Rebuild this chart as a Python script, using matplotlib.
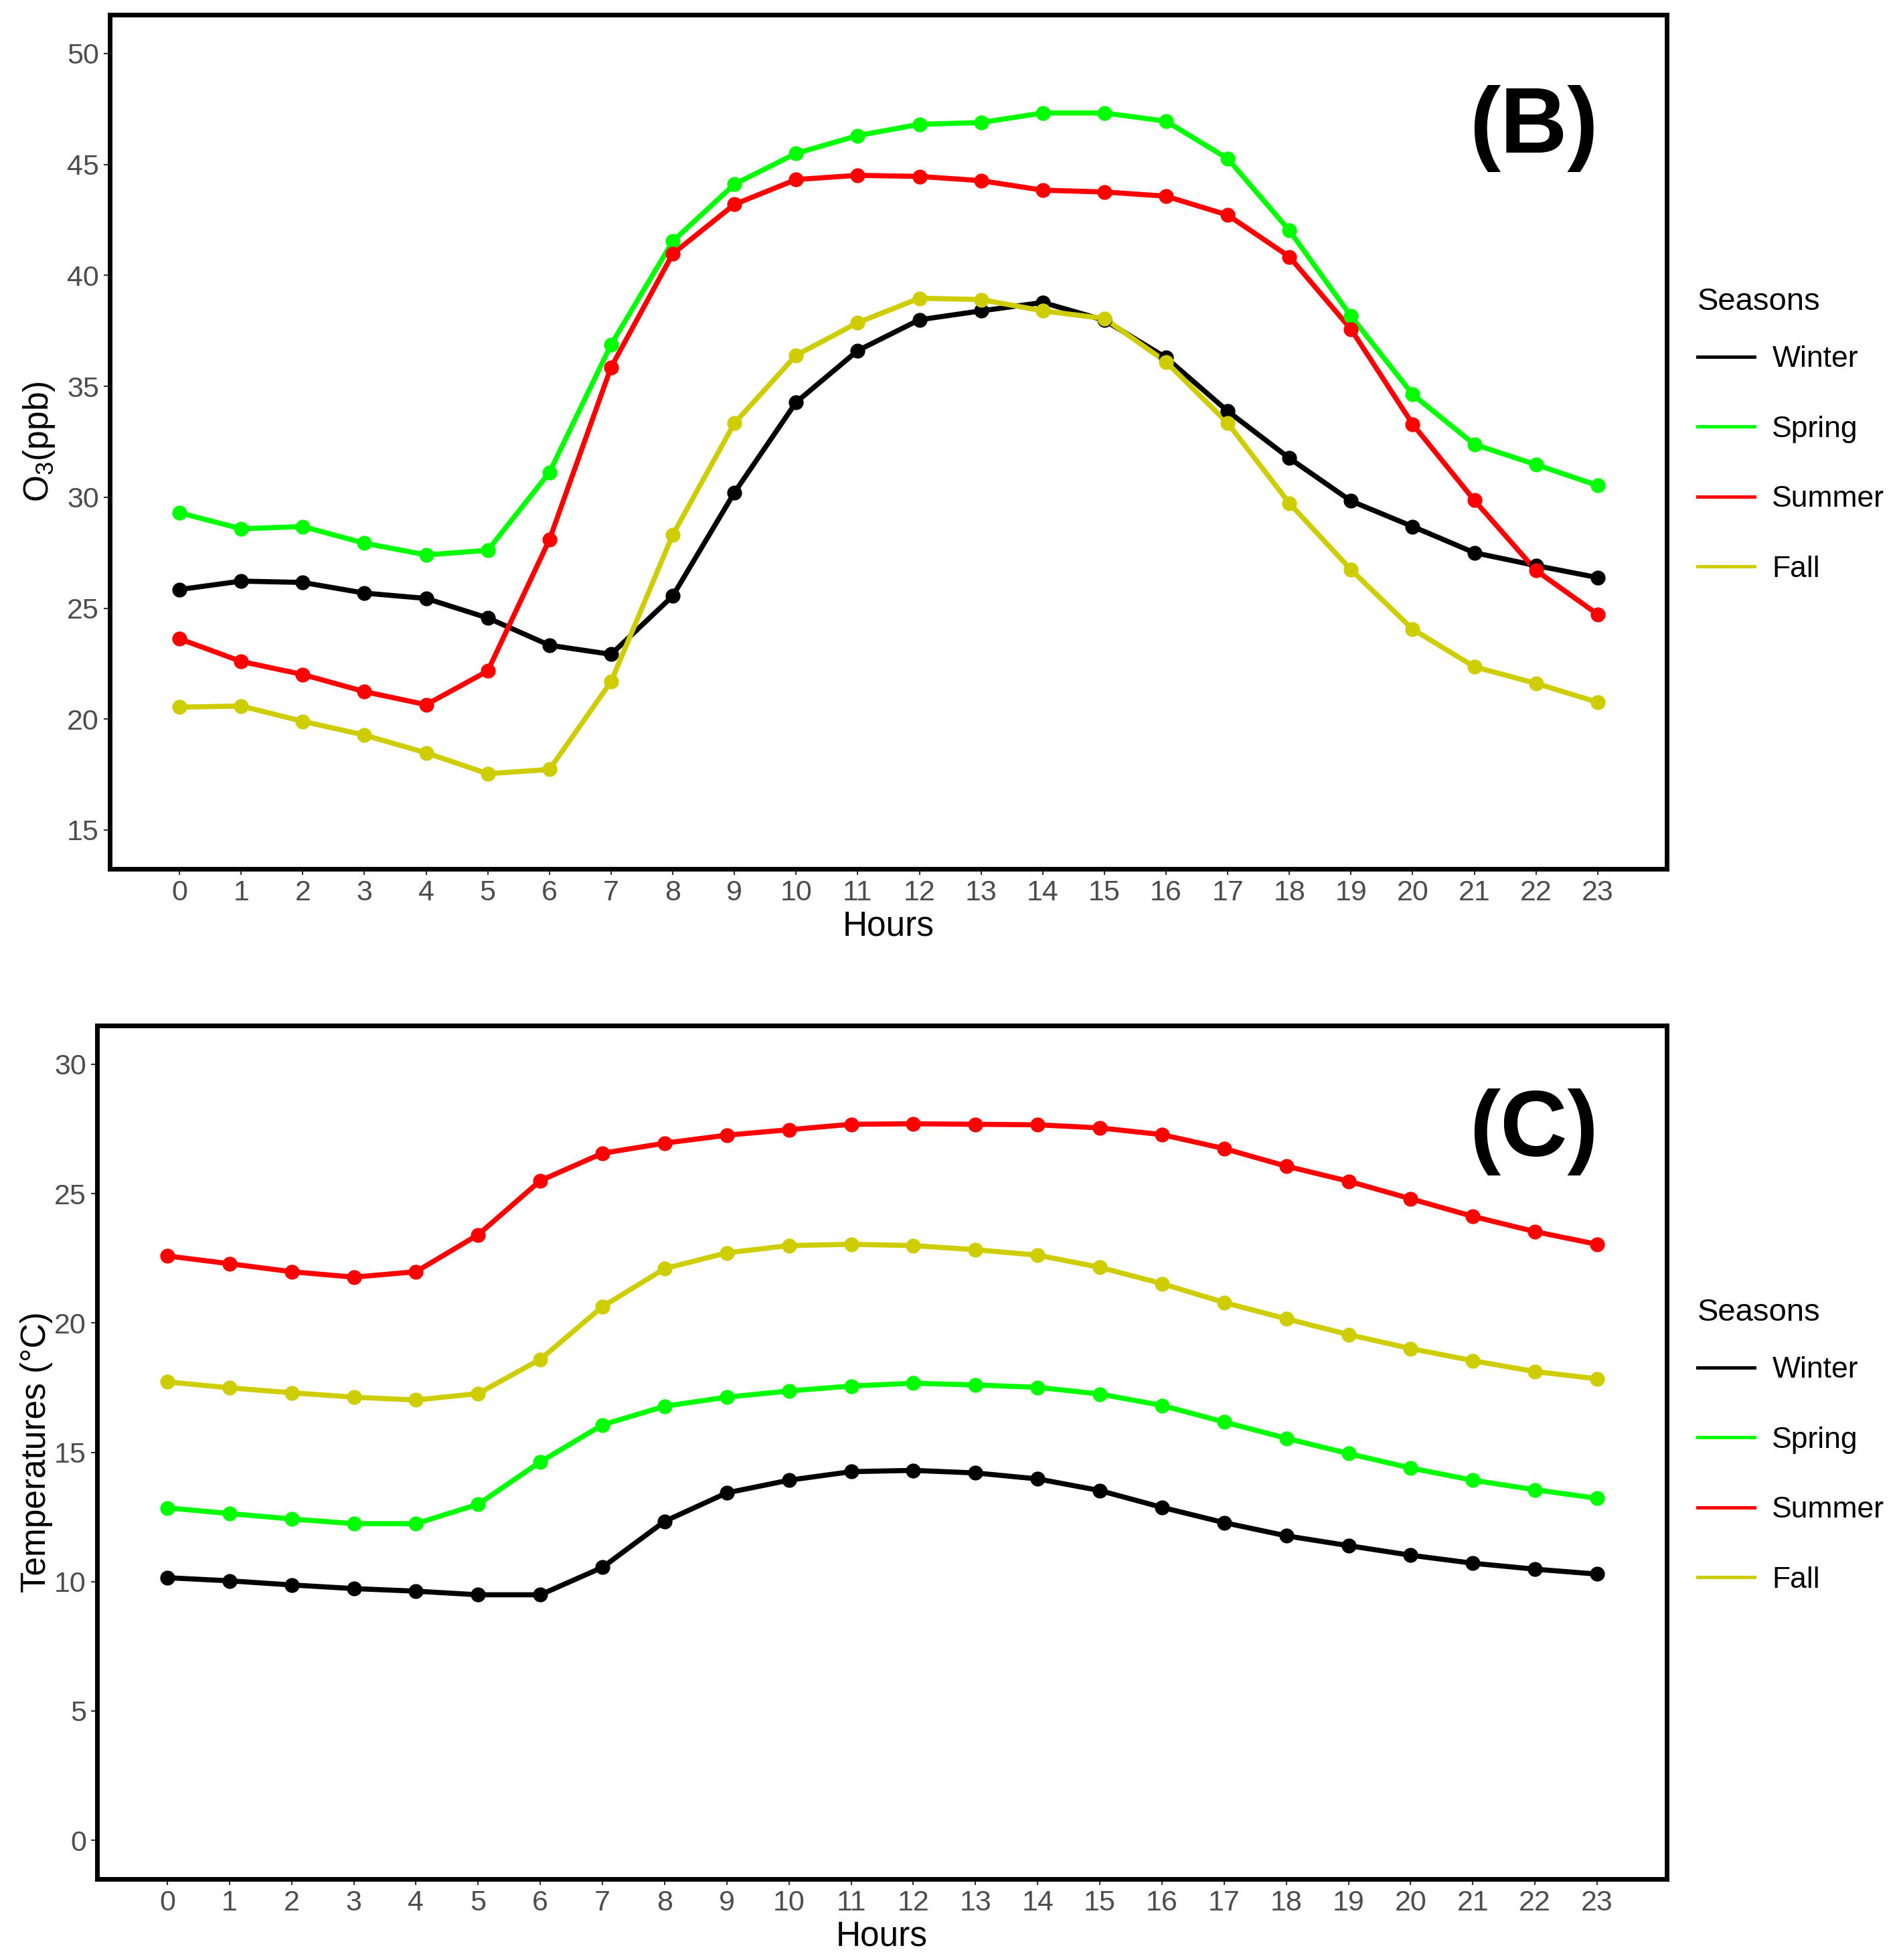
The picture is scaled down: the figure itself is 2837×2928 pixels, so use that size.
import matplotlib
matplotlib.use("Agg")
import matplotlib.pyplot as plt
from matplotlib.lines import Line2D

plt.rcParams['font.family'] = ['Liberation Sans', 'DejaVu Sans']
plt.rcParams['mathtext.fontset'] = 'custom'
plt.rcParams['mathtext.rm'] = 'Liberation Sans'

hours = list(range(24))
seasons = ['Winter', 'Spring', 'Summer', 'Fall']
colors = ['#000000', '#00FF00', '#FF0000', '#CDCD00']

# ozone (ppb), panel B
o3_winter = [25.84, 26.22, 26.16, 25.68, 25.44, 24.56, 23.33, 22.92, 25.55, 30.21, 34.28, 36.61,
             38.00, 38.40, 38.78, 37.98, 36.29, 33.88, 31.76, 29.83, 28.68, 27.50, 26.92, 26.38]
o3_spring = [29.30, 28.58, 28.68, 27.93, 27.40, 27.61, 31.12, 36.88, 41.54, 44.11, 45.50, 46.30,
             46.81, 46.89, 47.32, 47.32, 46.95, 45.26, 42.02, 38.16, 34.63, 32.38, 31.47, 30.53]
o3_summer = [23.62, 22.60, 22.01, 21.24, 20.65, 22.17, 28.09, 35.86, 40.97, 43.20, 44.32, 44.51,
             44.46, 44.27, 43.84, 43.76, 43.57, 42.72, 40.84, 37.57, 33.29, 29.86, 26.70, 24.72]
o3_fall = [20.54, 20.59, 19.90, 19.28, 18.48, 17.54, 17.73, 21.69, 28.31, 33.34, 36.40, 37.87,
           38.97, 38.91, 38.40, 38.06, 36.10, 33.34, 29.73, 26.73, 24.05, 22.36, 21.61, 20.76]

# temperature (degC), panel C
t_winter = [10.15, 10.03, 9.87, 9.73, 9.63, 9.49, 9.49, 10.55, 12.33, 13.43, 13.92, 14.25,
            14.30, 14.20, 13.97, 13.52, 12.87, 12.28, 11.77, 11.39, 11.02, 10.71, 10.48, 10.29]
t_spring = [12.85, 12.63, 12.42, 12.24, 12.24, 12.99, 14.63, 16.06, 16.78, 17.13, 17.37, 17.56,
            17.67, 17.60, 17.51, 17.25, 16.81, 16.17, 15.54, 14.95, 14.39, 13.92, 13.55, 13.22]
t_summer = [22.59, 22.29, 21.98, 21.77, 21.98, 23.41, 25.50, 26.56, 26.95, 27.26, 27.47, 27.68,
            27.70, 27.68, 27.66, 27.54, 27.28, 26.74, 26.06, 25.48, 24.80, 24.12, 23.53, 23.04]
t_fall = [17.72, 17.49, 17.30, 17.13, 17.02, 17.27, 18.59, 20.63, 22.10, 22.71, 22.99, 23.04,
          22.99, 22.83, 22.62, 22.15, 21.52, 20.79, 20.16, 19.55, 19.01, 18.54, 18.12, 17.84]

fig = plt.figure(figsize=(28.37, 29.28), dpi=100)
axB = fig.add_axes([0.0578, 0.5567, 0.8199, 0.4358])
axC = fig.add_axes([0.0511, 0.0413, 0.8266, 0.4355])


def draw_panel(ax, series, ylim, yticks, ylabel, ylabel_x, tag, tag_x, tag_y, leg_top):
    for vals, c in zip(series, colors):
        ax.plot(hours, vals, color=c, lw=5.5, zorder=2, solid_capstyle='butt')
    for vals, c in zip(series, colors):
        ax.plot(hours, vals, 'o', color=c, ms=15, zorder=3)
    ax.set_xlim(-1.13, 24.12)
    ax.set_ylim(*ylim)
    ax.set_xticks(hours)
    ax.set_yticks(yticks)
    ax.tick_params(axis='both', labelsize=31, labelcolor='#4D4D4D', color='#333333',
                   length=6.5, width=1.5)
    ax.tick_params(axis='x', pad=5)
    ax.tick_params(axis='y', pad=5)
    for s in ax.spines.values():
        s.set_linewidth(5)
        s.set_zorder(5)
    ax.set_xlabel('Hours', fontsize=37)
    ax.xaxis.set_label_coords(0.5, -0.048)
    ax.set_ylabel(ylabel, fontsize=37)
    ax.yaxis.set_label_coords(ylabel_x, 0.5)
    ax.text(tag_x, tag_y, tag, transform=ax.transAxes, ha='right', va='baseline',
            fontsize=100, fontweight='bold')
    handles = [Line2D([], [], color=c, lw=3.6) for c in colors]
    leg = ax.legend(handles, seasons, title='Seasons', loc='upper left',
                    bbox_to_anchor=(2514 / 2837, 1 - leg_top / 2928),
                    bbox_transform=fig.transFigure,
                    frameon=False, fontsize=32, title_fontsize=34, borderpad=0,
                    labelspacing=1.43, handlelength=1.9, handletextpad=0.6,
                    alignment='left')
    # tighter gap between the title and the first entry
    leg._legend_box.sep = 31
    return leg


draw_panel(axB, [o3_winter, o3_spring, o3_summer, o3_fall], (13.25, 51.75),
           range(15, 51, 5), r'$\mathregular{O_3}$(ppb)', -0.034, '(B)', 0.956, 0.8386, 407)
draw_panel(axC, [t_winter, t_spring, t_summer, t_fall], (-1.5, 31.5),
           range(0, 31, 5), 'Temperatures (°C)', -0.028, '(C)', 0.9565, 0.847, 1917)

fig.savefig('out.png', dpi=100, facecolor='white')
